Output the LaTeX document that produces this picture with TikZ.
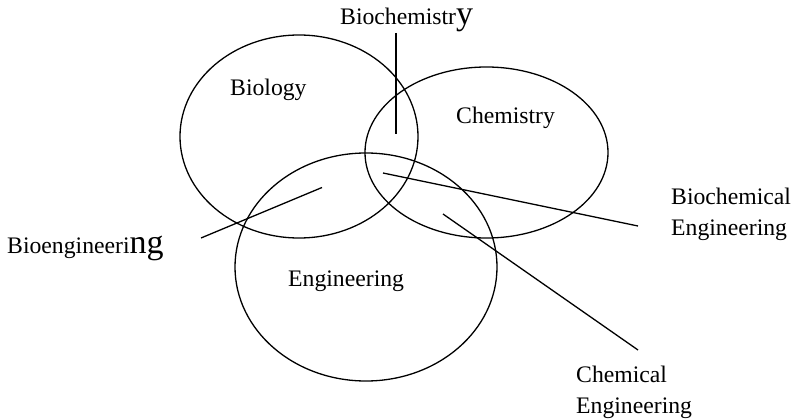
\documentclass[tikz,border=0pt]{standalone}
\usepackage{fontspec}
\setmainfont{Liberation Serif}
\begin{document}
\begin{tikzpicture}[x=1pt,y=-1pt,
  field/.style={draw=black,line width=1.3pt},
  pointer/.style={draw=black,line width=1.3pt},
  label/.style={inner sep=0pt,anchor=base west,align=left,
    font=\fontsize{23.7}{31}\selectfont}]
\newcommand{\tailfont}{\fontsize{34}{31}\selectfont}
\useasboundingbox (0,0) rectangle (793,420);

% the three overlapping fields
\draw[field] (299,136.5) ellipse [x radius=119,y radius=101.5];
\draw[field] (486.5,152.5) ellipse [x radius=121.5,y radius=85.5];
\draw[field] (366,267) ellipse [x radius=131,y radius=114];

% field names
\node[label] (biology) at (230,95.5) {Biology};
\node[label] (chemistry) at (456,123) {Chemistry};
\node[label] (engineering) at (288,286) {Engineering};

% overlap labels (two-line labels are placed by their last baseline)
\node[label] (biochem) at (340,25) {Biochemistr{\tailfont y}};
\node[label] (bioeng) at (7,253) {Bioengineeri{\tailfont ng}};
\node[label] (biochemeng) at (671,235) {Biochemical\\Engineering};
\node[label] (chemeng) at (576,413) {Chemical\\Engineering};

% pointer ends
\coordinate (biochemTop) at (396,33);
\coordinate (biochemIn) at (396,134);
\coordinate (bioengOut) at (201,238);
\coordinate (bioengIn) at (322,187.5);
\coordinate (biochemengIn) at (383,173);
\coordinate (biochemengOut) at (638,226);
\coordinate (chemengIn) at (443,214);
\coordinate (chemengOut) at (638,350);

% pointers
\draw[pointer] (biochemTop) -- (biochemIn);
\draw[pointer] (bioengOut) -- (bioengIn);
\draw[pointer] (biochemengIn) -- (biochemengOut);
\draw[pointer] (chemengIn) -- (chemengOut);
\end{tikzpicture}
\end{document}
